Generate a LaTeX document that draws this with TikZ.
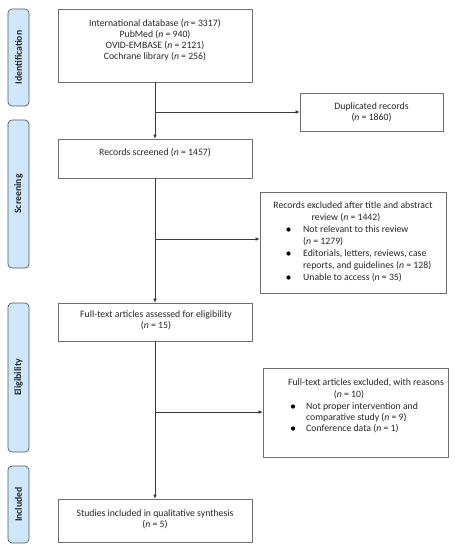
\documentclass[tikz,border=0pt]{standalone}
\usepackage{fontspec}
\setmainfont{Carlito}
\usetikzlibrary{arrows.meta}
\definecolor{phasefill}{HTML}{CFE7FA}
\definecolor{phaseline}{HTML}{4F5B66}
\definecolor{boxline}{HTML}{6E6E6E}
\definecolor{arrline}{HTML}{3A3A3A}
\newcommand{\nn}{\textit{n}}
\begin{document}
\begin{tikzpicture}[x=1pt,y=-1pt,
  phase/.style={draw=phaseline,fill=phasefill,rounded corners=4pt,line width=0.7pt,
     minimum width=21pt,inner sep=0pt},
  phasetext/.style={rotate=90,font=\fontsize{9.75}{11}\selectfont\bfseries,text=black!85},
  box/.style={draw=boxline,line width=0.7pt,inner sep=0pt},
  txt/.style={font=\fontsize{9.75}{11}\selectfont,align=center,inner sep=0pt,text=black!85},
  ln/.style={font=\fontsize{9.75}{11}\selectfont,inner sep=0pt,text=black!85,anchor=base west},
  cln/.style={font=\fontsize{9.75}{11}\selectfont,inner sep=0pt,text=black!85,anchor=base},
  bul/.style={circle,fill=black,inner sep=0pt,minimum size=4.2pt},
  arr/.style={draw=arrline,line width=0.6pt,-{Latex[length=4pt,width=3.6pt]}}]
\useasboundingbox (0,0) rectangle (455,550);
% phase labels
\node[phase,minimum height=97pt] (pid) at (18.5,57.5) {};
\node[phasetext] (pidt) at (pid.center) {Identification};
\node[phase,minimum height=148pt] (psc) at (18.5,194) {};
\node[phasetext] (psct) at (psc.center) {Screening};
\node[phase,minimum height=149pt] (pel) at (18.5,377.5) {};
\node[phasetext] (pelt) at (pel.center) {Eligibility};
\node[phase,minimum height=77pt] (pin) at (18.5,504.5) {};
\node[phasetext] (pint) at (pin.center) {Included};
% main boxes
\node[box,minimum width=194pt,minimum height=73pt] (b1) at (155,45.5) {};
\node[txt] (b1t) at (155,40.5) {International database (\nn{} = 3317)\\PubMed (\nn{} = 940)\\OVID-EMBASE (\nn{} = 2121)\\Cochrane library (\nn{} = 256)};
\node[box,minimum width=194pt,minimum height=39pt] (b2) at (155,158.5) {};
\node[txt] (b2t) at (155,153) {Records screened (\nn{} = 1457)};
\node[box,minimum width=194pt,minimum height=38pt] (b3) at (155,322) {};
\node[txt] (b3t) at (156,320.5) {Full-text articles assessed for eligibility\\(\nn{} = 15)};
\node[box,minimum width=194pt,minimum height=43pt] (b4) at (155,520.5) {};
\node[txt] (b4t) at (155,519) {Studies included in qualitative synthesis\\(\nn{} = 5)};
% duplicated
\node[box,minimum width=143pt,minimum height=38pt] (dup) at (371.5,112) {};
\node[txt] (dupt) at (dup.center) {Duplicated records\\(\nn{} = 1860)};
% excluded after screening
\node[box,minimum width=186pt,minimum height=101pt] (ex1) at (353,242.5) {};
\node[cln] (e1t1) at (353,208.5) {Records excluded after title and abstract};
\node[cln] (e1t2) at (346,220.5) {review (\nn{} = 1442)};
\node[bul] (e1b1) at (288.5,229.5) {};
\node[ln] (e1a) at (303,232.5) {Not relevant to this review};
\node[ln] (e1b) at (303,244.5) {(\nn{} = 1279)};
\node[bul] (e1b2) at (288.5,253.5) {};
\node[ln] (e1c) at (303,256.5) {Editorials, letters, reviews, case};
\node[ln] (e1d) at (303,268.5) {reports, and guidelines (\nn{} = 128)};
\node[bul] (e1b3) at (288.5,277.5) {};
\node[ln] (e1e) at (303,280.5) {Unable to access (\nn{} = 35)};
% full-text excluded
\node[box,minimum width=185pt,minimum height=89pt] (ex2) at (355.5,412.5) {};
\node[cln] (e2t1) at (366,385.5) {Full-text articles excluded, with reasons};
\node[cln] (e2t2) at (349,397.5) {(\nn{} = 10)};
\node[bul] (e2b1) at (293,406.5) {};
\node[ln] (e2a) at (306,409.5) {Not proper intervention and};
\node[ln] (e2b) at (306,420.5) {comparative study (\nn{} = 9)};
\node[bul] (e2b2) at (293,428.5) {};
\node[ln] (e2c) at (306,431.5) {Conference data (\nn{} = 1)};
% connectors
\coordinate (j1) at (155,112);
\coordinate (j2) at (155,239);
\coordinate (j3) at (155,412);
\draw[arr] (b1.south) -- (b2.north);
\draw[arr] (b2.south) -- (b3.north);
\draw[arr] (b3.south) -- (b4.north);
\draw[arr] (j1) -- (dup.west);
\draw[arr] (j2) -- (j2 -| ex1.west);
\draw[arr] (j3) -- (j3 -| ex2.west);
\end{tikzpicture}
\end{document}
